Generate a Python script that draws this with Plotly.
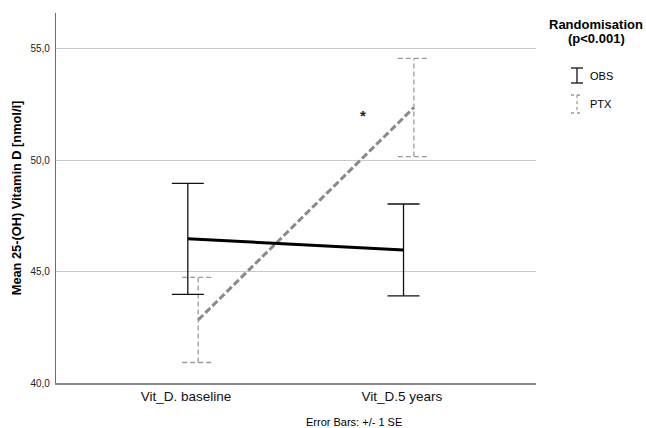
import plotly.graph_objects as go

# ---- data ----
categories = ["Vit_D. baseline", "Vit_D.5 years"]
obs_mean = [46.47, 45.97]
obs_se = [2.49, 2.06]
ptx_mean = [42.83, 52.36]
ptx_se = [1.91, 2.2]
y_ticks = [40, 45, 50, 55]
y_tick_labels = ["40,0", "45,0", "50,0", "55,0"]
star_pos = (0.79, 52.0)

# ---- layout geometry ----
W, H = 646, 428
ML, MR, MT, MB = 56, 110, 13, 45
PX_PER_UNIT = 215.7
X_RANGE = [-(193 - ML) / PX_PER_UNIT, (W - MR - 193) / PX_PER_UNIT]
Y_RANGE = [40, 56.6]
OBS_OFF, PTX_OFF = -0.024, 0.024
CAP = 16 / PX_PER_UNIT
LABEL_OFF = -0.032

FONT = "Liberation Sans, Arial, sans-serif"
GREY = "#8a8a8a"

def errbar_xy(offset, means, ses):
    xs, ys = [], []
    for i, (m, s) in enumerate(zip(means, ses)):
        x = i + offset
        lo, hi = m - s, m + s
        xs += [x, x, None, x - CAP, x + CAP, None, x - CAP, x + CAP, None]
        ys += [lo, hi, None, hi, hi, None, lo, lo, None]
    return xs, ys

fig = go.Figure()

ex, ey = errbar_xy(PTX_OFF, ptx_mean, ptx_se)
fig.add_trace(go.Scatter(x=ex, y=ey, mode="lines", hoverinfo="skip",
                         line=dict(color="#9a9a9a", width=1.3, dash="5px,3px"),
                         showlegend=False))
ex, ey = errbar_xy(OBS_OFF, obs_mean, obs_se)
fig.add_trace(go.Scatter(x=ex, y=ey, mode="lines", hoverinfo="skip",
                         line=dict(color="#111111", width=1.3),
                         showlegend=False))

fig.add_trace(go.Scatter(x=[i + PTX_OFF for i in range(len(categories))], y=ptx_mean,
                         mode="lines", line=dict(color=GREY, width=3, dash="7px,3px"),
                         name="PTX", showlegend=False))
fig.add_trace(go.Scatter(x=[i + OBS_OFF for i in range(len(categories))], y=obs_mean,
                         mode="lines", line=dict(color="#000000", width=3),
                         name="OBS", showlegend=False))

# star annotation
fig.add_annotation(x=star_pos[0], y=star_pos[1], text="<b>*</b>", showarrow=False,
                   font=dict(family=FONT, size=15, color="#222"), xref="x", yref="y")

# ---- manual legend ----
pw = W - ML - MR
ph = H - MT - MB

def px(xp):
    return (xp - ML) / pw

def py(yp):
    return (H - MB - yp) / ph

fig.add_annotation(x=px(596), y=py(24), text="<b>Randomisation</b>", showarrow=False,
                   xref="paper", yref="paper", xanchor="center", yanchor="middle",
                   font=dict(family=FONT, size=13, color="#000"))
fig.add_annotation(x=px(596), y=py(39), text="<b>(p&lt;0.001)</b>", showarrow=False,
                   xref="paper", yref="paper", xanchor="center", yanchor="middle",
                   font=dict(family=FONT, size=13, color="#000"))

legend_items = [("OBS", 75.5, 15, "#111111", "solid"), ("PTX", 104, 18, "#9a9a9a", "dot")]
for name, cy, hgt, col, dash in legend_items:
    cx = 577
    top, bot = cy - hgt / 2, cy + hgt / 2
    segs = [(cx, top, cx, bot), (cx - 6, top, cx + 6, top), (cx - 6, bot, cx + 6, bot)]
    for x0, y0, x1, y1 in segs:
        fig.add_shape(type="line", xref="paper", yref="paper",
                      x0=px(x0), y0=py(y0), x1=px(x1), y1=py(y1),
                      line=dict(color=col, width=1.3, dash=dash))
    fig.add_annotation(x=px(588), y=py(cy), text=name, showarrow=False,
                       xref="paper", yref="paper", xanchor="left", yanchor="middle",
                       font=dict(family=FONT, size=11, color="#000"))

fig.add_annotation(x=px(354), y=py(422), text="Error Bars: +/- 1 SE", showarrow=False,
                   xref="paper", yref="paper", xanchor="center", yanchor="middle",
                   font=dict(family=FONT, size=11, color="#000"))

fig.update_layout(
    width=W, height=H,
    margin=dict(l=ML, r=MR, t=MT, b=MB, autoexpand=False),
    paper_bgcolor="white", plot_bgcolor="white",
    font=dict(family=FONT, color="#000"),
    showlegend=False,
    xaxis=dict(range=X_RANGE, tickmode="array",
               tickvals=[i + LABEL_OFF for i in range(len(categories))],
               ticktext=categories, showgrid=False, zeroline=False,
               showline=True, linecolor="#8c8c8c", linewidth=1.5,
               ticks="", tickfont=dict(family=FONT, size=13.5, color="#111"),
               fixedrange=True, automargin=False),
    yaxis=dict(range=Y_RANGE, tickmode="array", tickvals=y_ticks,
               ticktext=y_tick_labels, showgrid=True, gridcolor="#c9c9c9",
               gridwidth=1, zeroline=False, showline=True, linecolor="#6e6e6e",
               linewidth=1.3, ticks="", tickfont=dict(family=FONT, size=10, color="#222"),
               ticklabelstandoff=3, automargin=False,
               title=dict(text="<b>Mean 25-(OH) Vitamin D [nmol/l]</b>",
                          font=dict(family=FONT, size=12.8, color="#000"), standoff=5),
               fixedrange=True),
)

fig.write_html("out.html", config={"displayModeBar": False},
               post_script="document.body.style.margin='0px';document.body.style.padding='0px';")
